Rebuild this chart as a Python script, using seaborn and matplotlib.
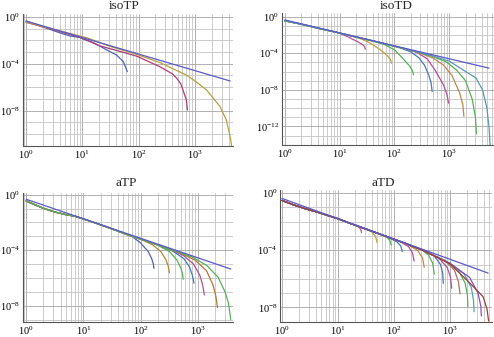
import numpy as np
import pandas as pd
import matplotlib
matplotlib.use("Agg")
import matplotlib.pyplot as plt
import matplotlib.ticker as mticker
import seaborn as sns

# values as log10(x), log10(y)

# --- isoTP ---
isotp_logx = [
    [0, 0.15, 0.3, 0.45, 0.6, 0.78, 0.95, 1.08, 1.2, 1.31, 1.49, 1.61, 1.73, 1.80],
    [0, 0.5, 1.0, 1.3, 1.49, 1.97, 2.38, 2.6, 2.68, 2.75, 2.79, 2.83, 2.85, 2.87],
    [0, 0.49, 1.08, 1.49, 1.97, 2.38, 2.85, 3.0, 3.21, 3.45, 3.56, 3.61, 3.64, 3.66],
]
isotp_logy = [
    [-0.36, -0.6, -0.85, -1.1, -1.35, -1.62, -1.74, -2.0, -2.2, -2.48, -2.96, -3.25, -3.82, -4.67],
    [-0.45, -1.1, -1.8, -2.45, -2.7, -3.35, -4.25, -4.85, -5.24, -5.7, -6.24, -6.8, -7.09, -7.95],
    [-0.43, -1.05, -1.77, -2.5, -3.2, -3.9, -4.96, -5.45, -6.24, -7.66, -8.8, -9.8, -10.5, -11.2],
]
isotp_ref_logx = [0, 3.63]
isotp_ref_logy = [-0.34, -5.47]

# --- isoTD ---
isotd_logx = [
    [0, 0.3, 0.6, 0.9, 1.0, 1.15, 1.25, 1.35, 1.43, 1.46, 1.47],
    [0, 0.3, 0.6, 0.9, 1.2, 1.4, 1.55, 1.73, 1.88, 1.93, 1.95],
    [0, 0.3, 0.6, 0.9, 1.2, 1.5, 1.8, 2.0, 2.16, 2.28, 2.33, 2.35],
    [0, 0.3, 0.6, 0.9, 1.2, 1.5, 1.8, 2.1, 2.3, 2.45, 2.55, 2.63, 2.67, 2.69],
    [0, 0.3, 0.6, 0.9, 1.2, 1.5, 1.8, 2.1, 2.4, 2.6, 2.76, 2.9, 2.96, 2.99],
    [0, 0.3, 0.6, 0.9, 1.2, 1.5, 1.8, 2.1, 2.4, 2.7, 2.9, 3.05, 3.19, 3.25, 3.27],
    [0, 0.3, 0.6, 0.9, 1.2, 1.5, 1.8, 2.1, 2.4, 2.7, 2.95, 3.13, 3.3, 3.42, 3.48, 3.5],
    [0, 0.3, 0.6, 0.9, 1.2, 1.5, 1.8, 2.1, 2.4, 2.7, 3.0, 3.25, 3.49, 3.61, 3.69, 3.73, 3.75],
]
isotd_logy = [
    [-0.45, -0.82, -1.25, -1.65, -1.8, -2.2, -2.5, -2.8, -3.1, -3.3, -3.56],
    [-0.45, -0.82, -1.25, -1.65, -2.08, -2.45, -2.85, -3.55, -4.3, -4.7, -5.09],
    [-0.45, -0.82, -1.25, -1.65, -2.08, -2.5, -3.0, -3.6, -4.6, -5.4, -5.9, -6.36],
    [-0.45, -0.82, -1.25, -1.65, -2.08, -2.5, -2.93, -3.4, -3.85, -4.5, -5.3, -6.4, -7.2, -8.18],
    [-0.45, -0.82, -1.25, -1.65, -2.08, -2.5, -2.92, -3.37, -3.88, -4.6, -6.0, -7.5, -8.5, -9.45],
    [-0.45, -0.82, -1.25, -1.65, -2.08, -2.5, -2.92, -3.37, -3.85, -4.5, -5.3, -6.4, -8.3, -9.6, -10.9],
    [-0.45, -0.82, -1.25, -1.65, -2.08, -2.5, -2.92, -3.37, -3.84, -4.35, -4.95, -5.8, -7.0, -9.0, -11.0, -12.8],
    [-0.45, -0.82, -1.25, -1.65, -2.08, -2.5, -2.92, -3.37, -3.82, -4.3, -4.85, -5.8, -6.7, -8.0, -10.0, -12.2, -14.3],
]
isotd_ref_logx = [0, 3.73]
isotd_ref_logy = [-0.36, -5.63]

# --- aTP ---
atp_head_logx = [0, 0.15, 0.3, 0.5, 0.7, 0.85, 1.0, 1.25, 1.5]
atp_head_logy = [-0.45, -0.72, -0.98, -1.25, -1.45, -1.55, -1.75, -2.1, -2.47]
atp_tail_logx = [
    [1.7, 1.85, 1.99, 2.13, 2.19, 2.22, 2.23],
    [1.8, 2.0, 2.2, 2.35, 2.44, 2.48, 2.50],
    [1.8, 2.0, 2.3, 2.5, 2.63, 2.70, 2.73, 2.74],
    [1.8, 2.0, 2.3, 2.55, 2.75, 2.85, 2.90, 2.93],
    [1.8, 2.0, 2.3, 2.5, 2.75, 2.92, 3.03, 3.08, 3.11],
    [1.8, 2.0, 2.3, 2.5, 2.7, 2.95, 3.15, 3.26, 3.31, 3.34],
    [1.8, 2.0, 2.3, 2.5, 2.9, 3.15, 3.35, 3.47, 3.53, 3.57],
]
atp_tail_logy = [
    [-2.78, -3.02, -3.45, -4.1, -4.6, -5.0, -5.31],
    [-2.93, -3.22, -3.6, -4.1, -4.7, -5.15, -5.62],
    [-2.93, -3.2, -3.65, -4.1, -4.7, -5.3, -5.7, -6.1],
    [-2.93, -3.2, -3.63, -4.05, -4.6, -5.2, -5.8, -6.39],
    [-2.93, -3.2, -3.62, -3.93, -4.4, -5.0, -5.8, -6.5, -7.23],
    [-2.93, -3.2, -3.62, -3.92, -4.22, -4.72, -5.5, -6.5, -7.3, -8.15],
    [-2.93, -3.2, -3.62, -3.92, -4.5, -5.1, -5.95, -7.0, -7.8, -9.0],
]
atp_ref_logx = [0, 3.57]
atp_ref_logy = [-0.33, -5.36]

# --- aTD ---
atd_head_logx = [0, 0.2, 0.4, 0.6, 0.8, 1.0, 1.2]
atd_head_logy = [-0.52, -0.82, -1.08, -1.3, -1.55, -1.8, -2.1]
atd_tail_logx = [
    [1.3, 1.38, 1.41, 1.42],
    [1.4, 1.6, 1.67, 1.70],
    [1.4, 1.7, 1.88, 1.93, 1.95],
    [1.4, 1.8, 2.05, 2.12, 2.15],
    [1.4, 1.8, 2.1, 2.26, 2.33, 2.36],
    [1.4, 1.8, 2.2, 2.42, 2.51, 2.54],
    [1.4, 1.8, 2.2, 2.5, 2.62, 2.69, 2.72],
    [1.4, 1.8, 2.2, 2.5, 2.72, 2.83, 2.87, 2.88],
    [1.4, 1.8, 2.2, 2.5, 2.8, 2.95, 3.01, 3.03],
    [1.4, 1.8, 2.2, 2.5, 2.9, 3.08, 3.15, 3.18],
    [1.4, 1.8, 2.2, 2.5, 2.9, 3.15, 3.27, 3.31, 3.32],
    [1.4, 1.8, 2.2, 2.5, 3.0, 3.25, 3.38, 3.42, 3.43],
    [1.4, 1.8, 2.2, 2.5, 3.0, 3.35, 3.5, 3.55, 3.56],
    [1.4, 1.8, 2.2, 2.5, 3.0, 3.36, 3.59, 3.66, 3.69],
]
atd_tail_logy = [
    [-2.25, -2.4, -2.58, -2.77],
    [-2.38, -2.7, -3.05, -3.47],
    [-2.38, -2.8, -3.1, -3.35, -3.64],
    [-2.38, -2.95, -3.4, -3.7, -4.1],
    [-2.38, -2.95, -3.38, -3.75, -4.2, -4.76],
    [-2.38, -2.95, -3.52, -4.0, -4.55, -5.2],
    [-2.38, -2.95, -3.52, -3.98, -4.35, -4.9, -5.66],
    [-2.38, -2.95, -3.52, -3.98, -4.4, -5.0, -5.6, -6.32],
    [-2.38, -2.95, -3.52, -3.98, -4.55, -5.2, -5.9, -6.67],
    [-2.38, -2.95, -3.52, -3.98, -4.7, -5.4, -6.2, -7.06],
    [-2.38, -2.95, -3.52, -3.98, -4.72, -5.4, -6.3, -7.1, -7.95],
    [-2.38, -2.95, -3.52, -3.98, -4.9, -5.65, -6.6, -7.5, -8.3],
    [-2.38, -2.95, -3.52, -3.98, -4.92, -5.9, -7.0, -7.9, -8.6],
    [-2.38, -2.95, -3.52, -3.98, -4.95, -6.32, -7.25, -8.1, -8.95],
]
atd_ref_logx = [0, 3.68]
atd_ref_logy = [-0.38, -5.6]

titles = ["isoTP", "isoTD", "aTP", "aTD"]

# colours
REF = "#5a5ac8"
MAG = "#b4509a"
GOLD = "#c4a040"
GREEN = "#58b058"
BLUE = "#4a78b4"
ORANGE = "#c08850"
TEAL = "#5a96b4"
isotp_colors = ["#4f62c0", "#b03a78", "#b8a040"]
isotd_colors = [MAG, GOLD, GREEN, BLUE, MAG, ORANGE, GREEN, TEAL]
atp_colors = ["#5060c0", "#b08838", GREEN, BLUE, MAG, "#b07838", GREEN]
atd_colors = [MAG, GOLD, GREEN, BLUE, MAG, ORANGE, GREEN, BLUE, MAG,
              "#b07060", GREEN, "#48a8b0", "#8c50b4", "#a03c3c"]

sns.set_theme(style="white")
plt.rcParams["font.family"] = ["Liberation Serif", "DejaVu Serif"]
plt.rcParams["mathtext.fontset"] = "stix"


def build_frame(logx_list, logy_list, ref_x, ref_y):
    rows = []
    for i, (lx, ly) in enumerate(zip(logx_list, logy_list)):
        for a, b in zip(lx, ly):
            rows.append((f"c{i:02d}", 10.0 ** a, 10.0 ** b))
    for a, b in zip(ref_x, ref_y):
        rows.append(("ref", 10.0 ** a, 10.0 ** b))
    return pd.DataFrame(rows, columns=["curve", "x", "y"])


panels = [
    (isotp_logx, isotp_logy, isotp_ref_logx, isotp_ref_logy, isotp_colors),
    (isotd_logx, isotd_logy, isotd_ref_logx, isotd_ref_logy, isotd_colors),
    ([atp_head_logx + t for t in atp_tail_logx],
     [atp_head_logy + t for t in atp_tail_logy],
     atp_ref_logx, atp_ref_logy, atp_colors),
    ([atd_head_logx + t for t in atd_tail_logx],
     [atd_head_logy + t for t in atd_tail_logy],
     atd_ref_logx, atd_ref_logy, atd_colors),
]

W, H = 494, 337
# axes boxes in pixels: left, top, right, bottom
boxes = [(22.7, 14, 233, 146), (282, 13, 493.5, 145),
         (22.7, 193, 233, 322), (280.3, 189.7, 492, 322)]
xlims = [(-0.06, 3.68), (-0.05, 3.81), (-0.06, 3.61), (-0.03, 3.75)]
ylims = [(-11.03, 0.26), (-14.03, 0.4), (-9.18, 0.12), (-9.02, 0.23)]
yticks = [[0, -4, -8], [0, -4, -8, -12], [0, -4, -8], [0, -4, -8]]
title_pos = [(124, 6), (396, 6), (126, 183), (383, 183)]

fig = plt.figure(figsize=(W / 100, H / 100), dpi=100)

for k, (lx, ly, rx, ry, cols) in enumerate(panels):
    l, t, r, b = boxes[k]
    ax = fig.add_axes([l / W, 1 - b / H, (r - l) / W, (b - t) / H])
    df = build_frame(lx, ly, rx, ry)
    pal = {f"c{i:02d}": c for i, c in enumerate(cols)}
    pal["ref"] = REF
    sns.lineplot(data=df, x="x", y="y", hue="curve", palette=pal,
                 estimator=None, sort=False, legend=False, lw=0.9, ax=ax)
    ax.set_xscale("log")
    ax.set_yscale("log")
    ax.set_xlim(10 ** xlims[k][0], 10 ** xlims[k][1])
    ax.set_ylim(10 ** ylims[k][0], 10 ** ylims[k][1])
    ax.set_xlabel("")
    ax.set_ylabel("")

    ax.xaxis.set_major_locator(mticker.LogLocator(base=10, numticks=20))
    ax.xaxis.set_minor_locator(mticker.LogLocator(base=10, subs=np.arange(2, 10), numticks=20))
    ax.xaxis.set_minor_formatter(mticker.NullFormatter())
    ax.yaxis.set_major_locator(mticker.FixedLocator([10.0 ** e for e in yticks[k]]))
    lo = int(np.floor(ylims[k][0]))
    ax.yaxis.set_minor_locator(mticker.FixedLocator([10.0 ** e for e in range(lo, 1)]))
    ax.yaxis.set_minor_formatter(mticker.NullFormatter())
    ax.yaxis.set_major_formatter(mticker.LogFormatterSciNotation())

    ax.grid(which="major", color="#a6a6a6", lw=0.6)
    ax.grid(which="minor", color="#c4c4c4", lw=0.6)
    ax.set_axisbelow(True)
    for s in ["top", "right"]:
        ax.spines[s].set_visible(False)
    for s in ["left", "bottom"]:
        ax.spines[s].set_color("#555555")
        ax.spines[s].set_linewidth(0.8)
    ax.tick_params(which="both", direction="in", colors="#555555",
                   labelcolor="black", labelsize=7.5, pad=2)
    ax.tick_params(which="major", length=3, width=0.6)
    ax.tick_params(which="minor", length=1.5, width=0.5)

    fig.text(title_pos[k][0] / W, 1 - title_pos[k][1] / H, titles[k],
             ha="center", va="center", fontsize=9.5)

fig.savefig("out.png", dpi=100)
